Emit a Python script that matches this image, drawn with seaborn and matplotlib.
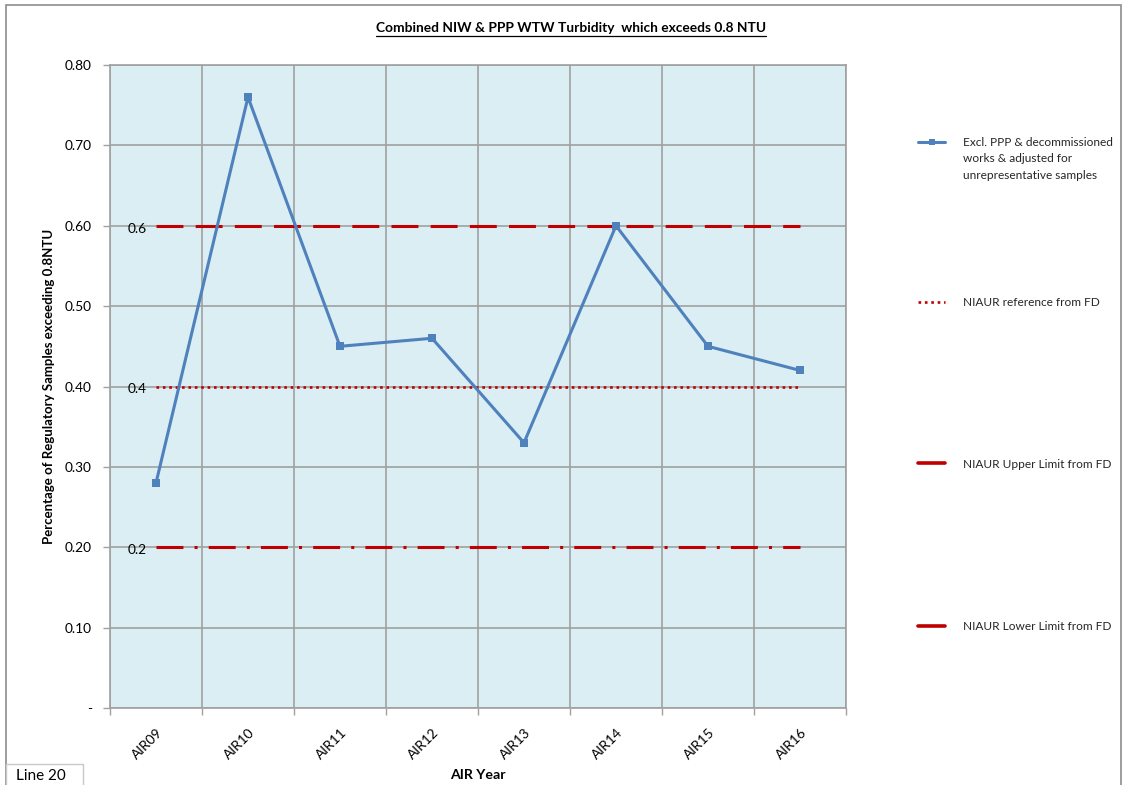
import matplotlib
matplotlib.use("Agg")
import matplotlib.pyplot as plt
from matplotlib.lines import Line2D
from matplotlib.patches import Rectangle
from matplotlib.ticker import FixedLocator, FuncFormatter
import seaborn as sns
import pandas as pd

# ---- data ----
years = ["AIR09", "AIR10", "AIR11", "AIR12", "AIR13", "AIR14", "AIR15", "AIR16"]
turbidity = [0.28, 0.76, 0.45, 0.46, 0.33, 0.60, 0.45, 0.42]
upper_limit = 0.6
reference = 0.4
lower_limit = 0.2
y_ticks = [0.0, 0.1, 0.2, 0.3, 0.4, 0.5, 0.6, 0.7, 0.8]

series_lines = ["Excl. PPP & decommissioned", "works & adjusted for", "unrepresentative samples"]
ref_label = "NIAUR reference from FD"
upper_label = "NIAUR Upper Limit from FD"
lower_label = "NIAUR Lower Limit from FD"

sns.set_theme(style="white")
plt.rcParams["font.family"] = ["Lato", "DejaVu Sans"]
plt.rcParams["lines.scale_dashes"] = False

BLUE = "#4F81BD"
RED = "#C00000"
GRID = "#A0A0A0"
FS = 9.9        # axis text
FS_LEG = 8.6    # legend text

df = pd.DataFrame({"year": years, "value": turbidity})
df["upper"] = upper_limit
df["reference"] = reference
df["lower"] = lower_limit

fig = plt.figure(figsize=(11.25, 7.85), dpi=100)
ax = fig.add_axes([110 / 1125, 1 - 708 / 785, 736 / 1125, 643 / 785])
ax.set_facecolor("#DAEEF3")

dash_upper = (0, (19.4, 8.8))
dash_lower = (0, (19.4, 8.0, 2.2, 8.0))
dot_ref = (0, (1.9, 2.7))

sns.lineplot(data=df, x="year", y="upper", ax=ax, color=RED, lw=2.2,
             linestyle=dash_upper, dash_capstyle="butt", zorder=3)
sns.lineplot(data=df, x="year", y="lower", ax=ax, color=RED, lw=2.2,
             linestyle=dash_lower, dash_capstyle="butt", zorder=3)
sns.lineplot(data=df, x="year", y="reference", ax=ax, color=RED, lw=1.9,
             linestyle=dot_ref, dash_capstyle="butt", zorder=3)
sns.lineplot(data=df, x="year", y="value", ax=ax, color=BLUE, lw=2.2,
             marker="s", markersize=5.5, markeredgewidth=0, zorder=4)

# value labels at the left end of the limit lines
for v in (upper_limit, reference, lower_limit):
    ax.annotate(f"{v:g}", xy=(0, v), xytext=(-13.5, -2), textcoords="offset points",
                ha="center", va="center", fontsize=FS, color="#000000")

ax.set_xlim(-0.5, len(years) - 0.5)
ax.set_ylim(0, 0.8)

# y axis
ax.yaxis.set_major_locator(FixedLocator(y_ticks))
ax.yaxis.set_major_formatter(FuncFormatter(lambda v, p: "-" if abs(v) < 1e-9 else f"{v:.2f}"))
ax.tick_params(axis="y", which="major", length=5, width=1, color=GRID,
               labelsize=FS, pad=8, direction="out", left=True, labelcolor="#000000")
ax.grid(axis="y", which="major", color=GRID, lw=1.2)

# x axis: labels at category centres, ticks and grid at boundaries
ax.set_xticks(range(len(years)))
ax.set_xticklabels(years, rotation=45, ha="right", rotation_mode="anchor")
ax.set_xticks([i - 0.5 for i in range(len(years) + 1)], minor=True)
ax.tick_params(axis="x", which="major", length=0, labelsize=FS, pad=13, labelcolor="#000000")
ax.tick_params(axis="x", which="minor", length=5, width=1, color=GRID, direction="out", bottom=True)
ax.grid(axis="x", which="minor", color=GRID, lw=1.2)
ax.set_axisbelow(True)

for s in ax.spines.values():
    s.set_color(GRID)
    s.set_linewidth(1.2)

ax.set_xlabel("AIR Year", fontsize=FS + 0.3, fontweight="bold", labelpad=6, color="#000000")
ax.set_ylabel("Percentage of Regulatory Samples exceeding 0.8NTU", fontsize=FS - 0.4,
              fontweight="bold", labelpad=7, color="#000000")

# title with underline
title = fig.text(571 / 1125, 1 - 28 / 785, "Combined NIW & PPP WTW Turbidity  which exceeds 0.8 NTU",
                 ha="center", va="center", fontsize=FS, fontweight="bold", color="#000000")
fig.canvas.draw()
bb = title.get_window_extent().transformed(fig.transFigure.inverted())
fig.add_artist(Line2D([bb.x0, bb.x1], [bb.y0 - 0.002, bb.y0 - 0.002],
                      transform=fig.transFigure, color="#000000", lw=0.9))


# legend entries, one per row on the right
def add_legend(handles, labels, y, spacing=0.5):
    return fig.legend(handles, labels, loc="center left", bbox_to_anchor=(918 / 1125, y),
                      frameon=False, fontsize=FS_LEG, handlelength=2.3, handletextpad=1.45,
                      labelspacing=spacing, borderaxespad=0, borderpad=0)


blank = Line2D([], [], color="none")
add_legend([Line2D([], [], color=BLUE, lw=2.2, marker="s", markersize=4, markeredgewidth=0),
            blank, blank],
           series_lines, 1 - 159 / 785, spacing=0.42)
add_legend([Line2D([], [], color=RED, lw=1.9, linestyle=dot_ref, dash_capstyle="butt")],
           [ref_label], 1 - 303 / 785)
add_legend([Line2D([], [], color=RED, lw=2.6)], [upper_label], 1 - 464 / 785)
add_legend([Line2D([], [], color=RED, lw=2.6)], [lower_label], 1 - 627 / 785)

# outer chart frame and name tag
fig.add_artist(Rectangle((6 / 1125, -0.05), 1115 / 1125, 1.05 - 5 / 785, transform=fig.transFigure,
                         fill=False, edgecolor="#8C8C8C", lw=1.2))
fig.add_artist(Rectangle((6 / 1125, -0.01), 77 / 1125, 0.01 + 21 / 785, transform=fig.transFigure,
                         facecolor="white", edgecolor="#C8C8C8", lw=1.0))
fig.text(16 / 1125, 1 - 776 / 785, "Line 20", fontsize=11, va="center", ha="left", color="#000000")

fig.savefig("out.png", dpi=100, facecolor="white")
